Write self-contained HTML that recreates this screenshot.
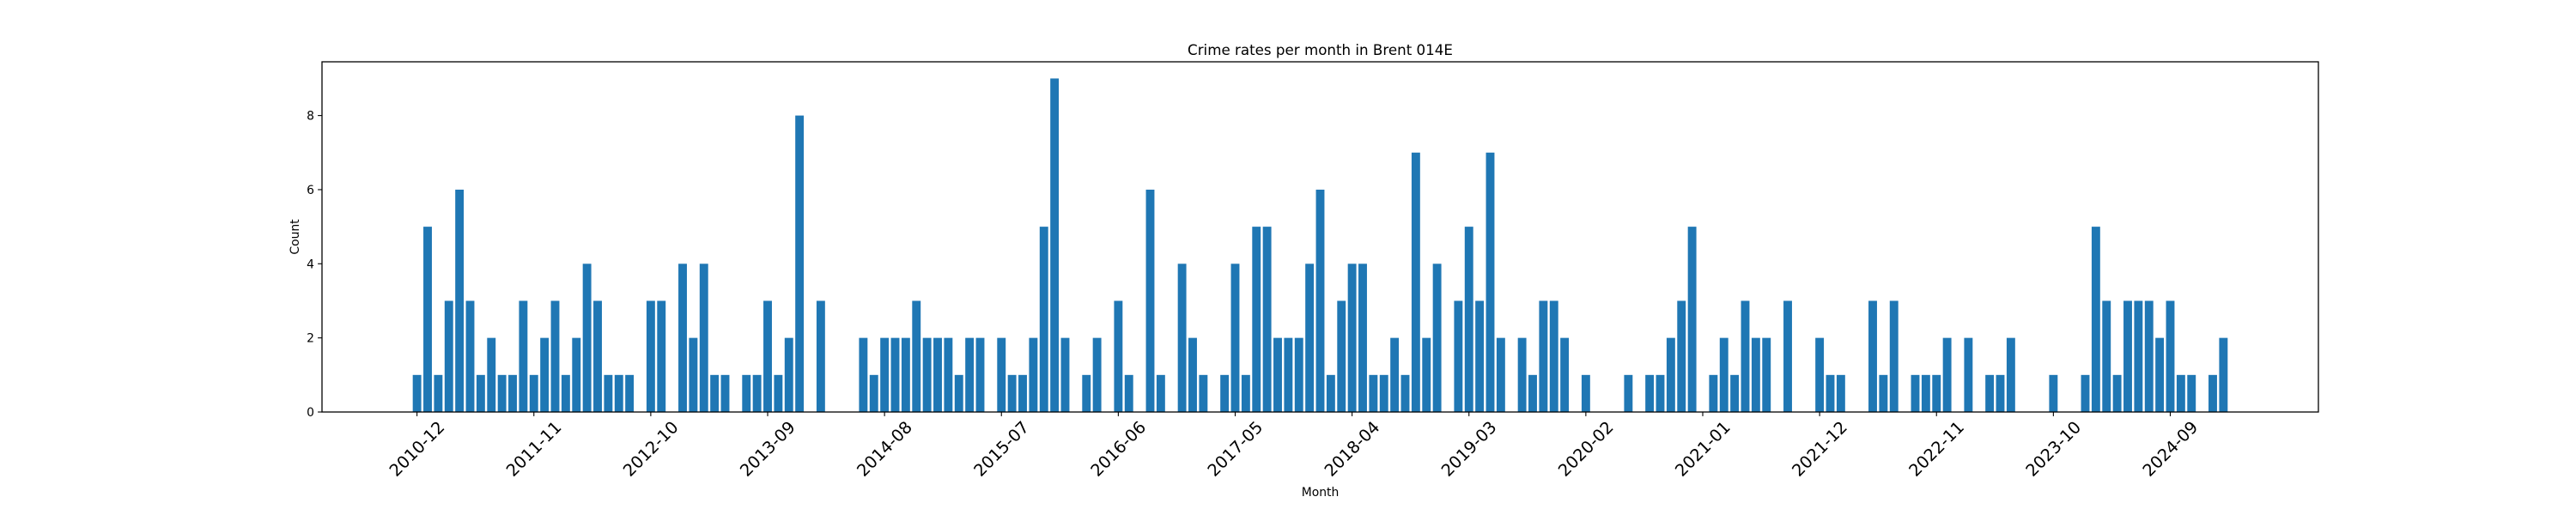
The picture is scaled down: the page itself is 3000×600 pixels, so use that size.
<!DOCTYPE html>
<html><head><meta charset="utf-8"><style>
body{margin:0;background:#fff}
svg{display:block}
text{font-family:"DejaVu Sans","Liberation Sans",sans-serif;fill:#000}
</style></head><body>
<svg id="chart" width="3000" height="600" viewBox="0 0 3000 600" xmlns="http://www.w3.org/2000/svg">
<rect x="0" y="0" width="3000" height="600" fill="#fff"/>
<text x="1537.5" y="64" font-size="16.7" text-anchor="middle">Crime rates per month in Brent 014E</text>
<g id="bars"></g>
<g id="axes"></g>
<rect x="375" y="72" width="2325" height="408" fill="none" stroke="#000" stroke-width="1.3"/>
<text x="1537.5" y="578" font-size="13.9" text-anchor="middle">Month</text>
<text x="0" y="0" font-size="13.9" text-anchor="middle" transform="translate(348,276) rotate(-90)">Count</text>
</svg>
<script>
const startYear = 2010;
const startMonth = 12;
const counts = [1,5,1,3,6,3,1,2,1,1,3,1,2,3,1,2,4,3,1,1,1,0,3,3,0,4,2,4,1,1,0,1,1,3,1,2,8,0,3,0,
0,0,2,1,2,2,2,3,2,2,2,1,2,2,0,2,1,1,2,5,9,2,0,1,2,0,3,1,0,6,1,0,4,2,1,0,1,4,1,5,
5,2,2,2,4,6,1,3,4,4,1,1,2,1,7,2,4,0,3,5,3,7,2,0,2,1,3,3,2,0,1,0,0,0,1,0,1,1,2,3,
5,0,1,2,1,3,2,2,0,3,0,0,2,1,1,0,0,3,1,3,0,1,1,1,2,0,2,0,1,1,2,0,0,0,1,0,0,1,5,3,
1,3,3,3,2,3,1,1,0,1,2];
const yTicks = [0,2,4,6,8];
const tickEvery = 11;

const NS = "http://www.w3.org/2000/svg";
const L = 375, R = 2700, T = 72, B = 480;
const n = counts.length;
const span = (n - 1) + 0.8;
const xmin = -0.4 - 0.05 * span, xmax = (n - 1) + 0.4 + 0.05 * span;
const ymax = Math.max(...counts) * 1.05;
function xs(v){ return L + (v - xmin) / (xmax - xmin) * (R - L); }
function ys(v){ return B - v / ymax * (B - T); }
function label(i){
  const m0 = (startMonth - 1) + i;
  const y = startYear + Math.floor(m0 / 12);
  const m = (m0 % 12) + 1;
  return y + "-" + (m < 10 ? "0" + m : m);
}
const bars = document.getElementById("bars");
const axes = document.getElementById("axes");
const bw = xs(0.4) - xs(-0.4);
counts.forEach((c, i) => {
  if (c <= 0) return;
  const r = document.createElementNS(NS, "rect");
  r.setAttribute("x", xs(i) - bw / 2);
  r.setAttribute("y", ys(c));
  r.setAttribute("width", bw);
  r.setAttribute("height", ys(0) - ys(c));
  r.setAttribute("fill", "#1f77b4");
  
  
  bars.appendChild(r);
});
yTicks.forEach(t => {
  const y = ys(t);
  const ln = document.createElementNS(NS, "line");
  ln.setAttribute("x1", L - 4.9); ln.setAttribute("x2", L);
  ln.setAttribute("y1", y); ln.setAttribute("y2", y);
  ln.setAttribute("stroke", "#000"); ln.setAttribute("stroke-width", "1.1");
  
  
  axes.appendChild(ln);
  const tx = document.createElementNS(NS, "text");
  tx.setAttribute("x", L - 9); tx.setAttribute("y", y + 5);
  tx.setAttribute("font-size", "13.9"); tx.setAttribute("text-anchor", "end");
  tx.textContent = t;
  
  
  axes.appendChild(tx);
});
for (let i = 0; i < n; i += tickEvery) {
  const x = xs(i);
  const ln = document.createElementNS(NS, "line");
  ln.setAttribute("x1", x); ln.setAttribute("x2", x);
  ln.setAttribute("y1", B); ln.setAttribute("y2", B + 4.9);
  ln.setAttribute("stroke", "#000"); ln.setAttribute("stroke-width", "1.1");
  
  
  axes.appendChild(ln);
  const tx = document.createElementNS(NS, "text");
  tx.setAttribute("x", 0); tx.setAttribute("y", 0);
  tx.setAttribute("font-size", "19.4"); tx.setAttribute("text-anchor", "middle");
  tx.setAttribute("dominant-baseline", "central");
  tx.setAttribute("transform", "translate(" + x + "," + (B + 43) + ") rotate(-45)");
  tx.textContent = label(i);
  
  
  axes.appendChild(tx);
}
</script>
</body></html>
